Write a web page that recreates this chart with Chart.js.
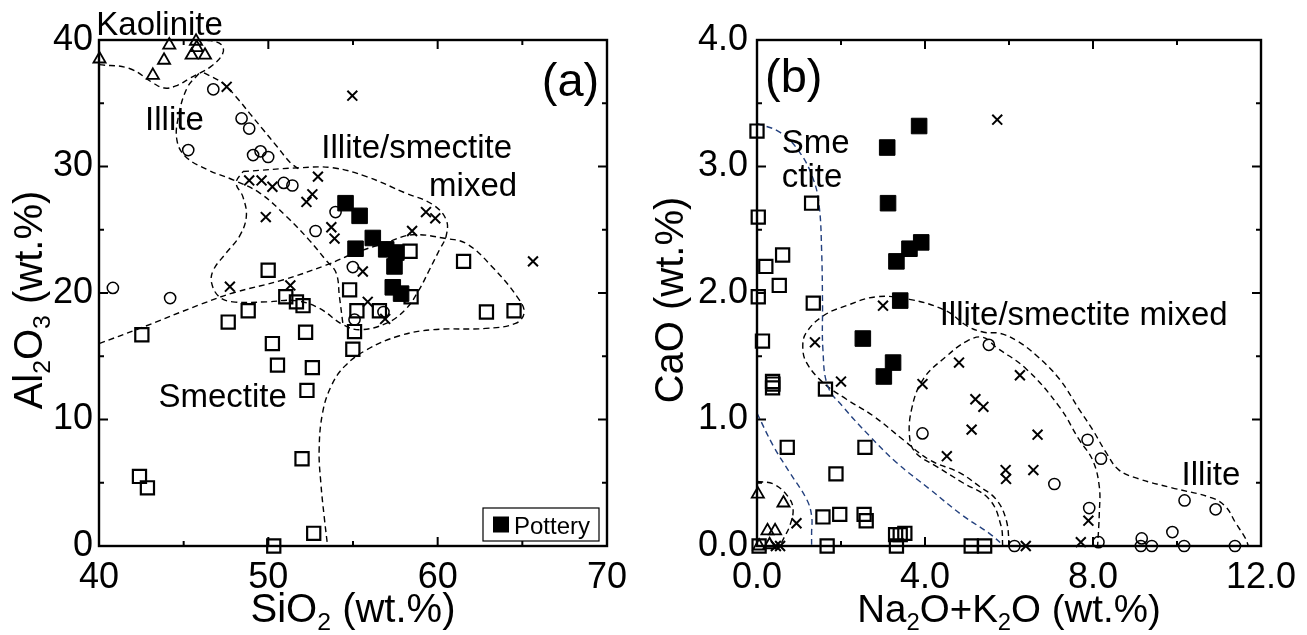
<!DOCTYPE html>
<html>
<head>
<meta charset="utf-8">
<script src="https://cdn.jsdelivr.net/npm/chart.js@4.4.1/dist/chart.umd.min.js"></script>
<style>
  html, body { margin: 0; padding: 0; background: #fff; }
  #wrap { position: relative; width: 1307px; height: 635px; }
  canvas { position: absolute; top: 0; }
  #chartA { left: 0; }
  #chartB { left: 650px; }
</style>
</head>
<body>
<div id="wrap">
  <canvas id="chartA" width="650" height="635"></canvas>
  <canvas id="chartB" width="657" height="635"></canvas>
</div>
<script>
// ---- panel (a): SiO2 vs Al2O3 (wt.%) ----
const aKaolinite = [[40.03,38.5],[43.18,37.2],[43.84,38.4],[44.15,39.6],[45.47,38.8],[45.73,39.9],[45.77,39.4],[46.26,38.8]];
const aIllite = [[46.75,36.1],[48.42,33.8],[48.87,33.0],[45.27,31.3],[49.1,30.9],[49.54,31.2],[49.99,30.75],[50.91,28.7],
  [51.42,28.5],[53.97,26.4],[52.79,24.9],[54.99,22.05],[56.8,18.5],[55.09,17.9],[40.82,20.4],[44.2,19.6]];
const aMixed = [[47.54,36.3],[48.87,28.9],[49.6,28.9],[50.24,28.4],[52.93,29.2],[52.6,27.8],[52.25,27.2],[49.85,26.0],
  [53.72,25.2],[53.91,24.3],[59.31,26.4],[59.86,25.9],[58.49,24.9],[55.58,21.7],[47.73,20.5],[51.3,20.6],
  [55.87,19.3],[56.9,17.95],[54.96,35.6],[65.63,22.5]];
const aSmectite = [[58.37,23.3],[61.53,22.5],[49.99,21.8],[51.03,19.7],[51.66,19.3],[52.05,19.0],[54.8,20.25],[48.81,18.6],
  [47.63,17.7],[55.23,18.6],[56.56,18.6],[55.09,16.95],[52.2,16.9],[50.24,16.0],[54.99,15.55],[58.43,19.7],
  [62.88,18.5],[64.51,18.6],[50.54,14.3],[52.6,14.1],[52.28,12.3],[51.99,6.9],[42.39,5.5],[42.86,4.6],
  [52.68,1.0],[50.32,0],[42.53,16.7]];
const aPottery = [[54.56,27.1],[55.39,26.1],[56.17,24.35],[55.15,23.5],[56.96,23.45],[57.56,23.2],[57.45,22.1],[57.35,20.45],[57.84,19.95]];

// field boundaries (a)
const aKaolField = [[40,38.05],[41.8,37.75],[43.2,36.6],[43.85,36.2],[44.6,36.4],[45.4,37.0],[46.6,37.9],[47.3,38.9],[47.25,39.6],[46.6,39.95],[45.8,40.0]];
const aIlliteField = [[45.9,37.35],[45.2,36.2],[44.7,34.0],[44.6,32.1],[45.1,30.8],[46.4,29.75],[48.0,28.9],[49.5,27.9],
  [51.07,26.05],[52.4,24.2],[53.4,22.6],[54.0,21.6],[54.2,19.7],[54.4,17.6]];
const aIlliteEdge = [[46.2,37.4],[47.3,36.6],[48.1,35.5],[48.9,34.2],[49.7,32.9],[50.5,31.6],[51.3,30.3],[51.8,29.8]];
const aMixedField = [[48.5,29.6],[51.85,29.9],[53.8,29.9],[55.8,29.2],[58.1,27.9],[59.7,27.0],[60.5,25.8],[60.5,24.5],
  [60.1,23.4],[59.5,21.8],[58.9,20.25],[58.1,18.7],[56.96,17.6],[55.4,17.1],[54.4,17.5],[53.0,18.8],[51.6,19.4],
  [49.9,19.3],[47.9,19.3],[47.1,19.7],[46.65,20.8],[46.75,21.8],[47.5,23.15],[48.3,24.5],[48.7,26.05],[48.5,27.6],
  [48.1,28.7],[48.5,29.6]];
const aSmectiteField = [[40,16.0],[42.4,17.2],[46.0,19.1],[47.9,20.0],[50.9,21.05],[53.4,22.2],[55.2,23.2],[57.0,24.0],
  [58.5,24.6],[60.5,24.3],[61.7,23.9],[63.2,22.1],[64.8,19.5],[65.1,18.4],[64.6,17.6],[62.85,17.2],[59.7,17.1],
  [57.7,16.6],[55.8,15.5],[54.5,14.2],[53.7,12.6],[53.2,10.5],[53.0,7.6],[53.1,5.0],[53.3,2.3],[53.5,0]];

const aXLabels = [40, 50, 60, 70];
const aXMinor = [45, 55, 65];
const aYLabels = [0, 10, 20, 30, 40];
const aYMinor = [5, 15, 25, 35];

// ---- panel (b): Na2O+K2O vs CaO (wt.%) ----
const bKaolinite = [[0.02,0.41],[0.63,0.34],[0.25,0.12],[0.43,0.12],[0.05,0],[0.3,0.01]];
const bIllite = [[3.94,0.89],[5.52,1.59],[7.08,0.49],[7.87,0.84],[8.19,0.69],[7.91,0.30],[8.13,0.03],[6.13,0],
  [9.16,0.06],[9.14,0],[9.4,0],[9.89,0.11],[10.17,0],[10.18,0.36],[10.92,0.29],[11.38,0]];
const bMixed = [[5.72,3.37],[3.0,1.90],[1.38,1.61],[2.0,1.30],[3.94,1.28],[4.81,1.45],[5.2,1.16],[5.39,1.10],
  [5.11,0.92],[4.52,0.71],[6.26,1.35],[6.68,0.88],[5.92,0.60],[5.93,0.53],[6.58,0.60],[7.89,0.20],[7.71,0.03],
  [6.4,0],[0.94,0.18],[0.45,0],[0.55,0]];
const bSmectite = [[0,3.28],[1.3,2.71],[0.03,2.60],[0.61,2.30],[0.21,2.21],[0.53,2.06],[0.03,1.97],[1.34,1.92],
  [0.13,1.62],[0.37,1.30],[0.37,1.25],[0.38,1.28],[1.63,1.24],[0.72,0.78],[2.57,0.78],[1.88,0.57],[1.57,0.23],
  [1.97,0.25],[2.55,0.25],[2.6,0.2],[1.67,0],[3.32,0],[3.3,0.09],[3.41,0.09],[3.52,0.1],[5.1,0],[5.42,0],[0.05,0]];
const bPottery = [[3.86,3.32],[3.10,3.15],[3.12,2.71],[3.91,2.40],[3.63,2.35],[3.32,2.25],[3.41,1.94],[2.52,1.64],[3.24,1.45],[3.02,1.34]];

// field boundaries (b)
const bSmectiteOuter = [[0,3.34],[0.55,3.27],[1.02,3.11],[1.34,2.9],[1.48,2.69],[1.54,2.32],[1.56,1.92],[1.57,1.55],
  [1.69,1.26],[2.05,1.10],[2.68,0.87],[3.32,0.66],[4.11,0.45],[4.9,0.24],[5.53,0.10],[5.85,0.01]];
const bSmectiteInner = [[0,1.05],[0.39,0.79],[0.78,0.58],[1.18,0.37],[1.3,0.24],[1.3,0.1],[1.3,0]];
const bKaolField = [[0,0.51],[0.39,0.49],[0.74,0.39],[0.86,0.29],[0.78,0.16],[0.62,0.05],[0.55,0]];
const bMixedField = [[6.01,0],[5.93,0.21],[5.69,0.37],[5.3,0.47],[4.82,0.58],[4.11,0.68],[3.48,0.84],[2.76,1.03],
  [2.13,1.16],[1.58,1.29],[1.18,1.45],[1.09,1.58],[1.18,1.69],[1.58,1.82],[2.13,1.90],[2.84,1.97],[3.63,1.95],
  [4.5,1.86],[5.0,1.74],[5.4,1.69],[5.8,1.68],[6.2,1.62],[6.64,1.51],[7.2,1.32],[7.67,1.08],[7.99,0.92],
  [8.31,0.74],[8.62,0.60],[9.1,0.53],[9.88,0.46],[10.83,0.38],[11.16,0.31],[11.4,0.18],[11.63,0.06],[11.7,0]];
const bIlliteField = [[5.85,0],[5.81,0.16],[5.53,0.37],[4.9,0.50],[4.27,0.63],[3.8,0.73],[3.64,0.84],[3.68,1.08],
  [3.96,1.32],[4.51,1.50],[5.0,1.62],[5.38,1.65],[5.7,1.57],[6.41,1.40],[7.2,1.10],[7.67,0.84],[7.99,0.68],
  [8.15,0.47],[8.15,0.26],[8.11,0]];

const bXLabels = [0, 4, 8, 12];
const bXMinor = [2, 6, 10];
const bYLabels = [0, 1, 2, 3, 4];
const bYMinor = [0.5, 1.5, 2.5, 3.5];

const FONT = "'Liberation Sans', Arial, Helvetica, sans-serif";
const NAVY = '#23407e';

const pts = arr => arr.map(([x, y]) => ({x, y}));

function marker(data, style, radius, width, fill) {
  return {
    data: pts(data), pointStyle: style, pointRadius: radius, pointHoverRadius: radius,
    pointBorderWidth: width, borderColor: '#000', pointBorderColor: '#000',
    backgroundColor: fill || 'rgba(0,0,0,0)', pointBackgroundColor: fill || 'rgba(0,0,0,0)',
    showLine: false, clip: false, order: 1
  };
}

function field(data, color) {
  return {
    data: pts(data), showLine: true, borderColor: color || '#000', borderWidth: 1.4,
    borderDash: [6, 4], pointRadius: 0, pointHoverRadius: 0, tension: 0.4, fill: false,
    clip: false, order: 10
  };
}

function markers(k, c, x, s, p) {
  return [
    marker(p, 'rect', 11, 1, '#000'),
    marker(x, 'crossRot', 7, 2),
    marker(s, 'rect', 9.3, 2.2),
    marker(c, 'circle', 5.6, 1.5),
    marker(k, 'triangle', 7, 1.8)
  ];
}

function richText(ctx, parts, x, y, size) {
  const sub = size * 0.62;
  let w = 0;
  parts.forEach(([t, s]) => { ctx.font = `${s ? sub : size}px ${FONT}`; w += ctx.measureText(t).width; });
  let cx = x - w / 2;
  ctx.textAlign = 'left';
  ctx.textBaseline = 'alphabetic';
  parts.forEach(([t, s]) => {
    ctx.font = `${s ? sub : size}px ${FONT}`;
    ctx.fillText(t, cx, s ? y + size * 0.2 : y);
    cx += ctx.measureText(t).width;
  });
}

const decor = {
  id: 'decor',
  afterDatasetsDraw(chart, args, o) {
    const {ctx, chartArea: a, scales: {x, y}} = chart;
    ctx.save();
    ctx.strokeStyle = '#000';
    ctx.lineWidth = 2.4;
    ctx.strokeRect(a.left, a.top, a.right - a.left, a.bottom - a.top);
    ctx.lineWidth = 2;
    ctx.beginPath();
    const tx = (v, len) => {
      const p = x.getPixelForValue(v);
      ctx.moveTo(p, a.bottom); ctx.lineTo(p, a.bottom - len);
      ctx.moveTo(p, a.top); ctx.lineTo(p, a.top + len);
    };
    const ty = (v, len) => {
      const p = y.getPixelForValue(v);
      ctx.moveTo(a.left, p); ctx.lineTo(a.left + len, p);
      ctx.moveTo(a.right, p); ctx.lineTo(a.right - len, p);
    };
    o.xMajor.forEach(v => tx(v, 9));
    o.xMinor.forEach(v => tx(v, 5));
    o.yMajor.forEach(v => ty(v, 9));
    o.yMinor.forEach(v => ty(v, 5));
    ctx.stroke();

    ctx.fillStyle = '#000';
    ctx.textBaseline = 'alphabetic';
    o.labels.forEach(l => {
      ctx.font = `${l.size}px ${FONT}`;
      ctx.textAlign = l.align || 'left';
      ctx.fillText(l.text, x.getPixelForValue(l.x), y.getPixelForValue(l.y));
    });

    if (o.legend) {
      const r = a.right - o.legend.right, b = a.bottom - o.legend.bottom;
      const w = o.legend.w, h = o.legend.h;
      ctx.fillStyle = '#fff';
      ctx.fillRect(r - w, b - h, w, h);
      ctx.lineWidth = 1.2;
      ctx.strokeRect(r - w, b - h, w, h);
      ctx.fillStyle = '#000';
      ctx.fillRect(r - w + 10, b - h / 2 - 8, 16, 16);
      ctx.font = `24px ${FONT}`;
      ctx.textAlign = 'left';
      ctx.fillText(o.legend.text, r - w + 31, b - h / 2 + 9);
    }

    const cx = (a.left + a.right) / 2, cy = (a.top + a.bottom) / 2;
    richText(ctx, o.xTitle, cx, o.xTitleY, o.xTitleSize);
    ctx.translate(o.yTitleX, cy + 7);
    ctx.rotate(-Math.PI / 2);
    richText(ctx, o.yTitle, 0, 0, 40);
    ctx.restore();
  }
};

function axis(min, max, labels, fmt, fit, pad) {
  return {
    type: 'linear', min, max,
    grid: {display: false, drawTicks: false},
    border: {display: false},
    afterBuildTicks: s => { s.ticks = labels.map(v => ({value: v})); },
    afterFit: fit,
    ticks: {
      color: '#000', padding: pad, autoSkip: false, maxRotation: 0,
      font: {family: FONT, size: 36},
      callback: v => fmt(v)
    }
  };
}

new Chart(document.getElementById('chartA'), {
  type: 'scatter',
  data: {
    datasets: [
      ...markers(aKaolinite, aIllite, aMixed, aSmectite, aPottery),
      field(aKaolField), field(aIlliteField), field(aIlliteEdge), field(aMixedField), field(aSmectiteField)
    ]
  },
  options: {
    responsive: false, animation: false, events: [],
    layout: {padding: {top: 40, right: 43, left: 0, bottom: 0}},
    scales: {
      x: axis(40, 70, aXLabels, v => String(v), s => { s.height = 89; }, 10),
      y: axis(0, 40, aYLabels, v => String(v), s => { s.width = 99; }, 6)
    },
    plugins: {
      legend: {display: false}, tooltip: {enabled: false},
      decor: {
        xMajor: aXLabels, xMinor: aXMinor, yMajor: aYLabels, yMinor: aYMinor,
        labels: [
          {text: 'Kaolinite', x: 39.84, y: 40.43, size: 33},
          {text: 'Illite', x: 42.72, y: 32.91, size: 33},
          {text: 'Illite/smectite', x: 53.13, y: 30.7, size: 33},
          {text: 'mixed', x: 64.69, y: 27.63, size: 33, align: 'right'},
          {text: 'Smectite', x: 43.51, y: 11.02, size: 33},
          {text: '(a)', x: 66.15, y: 35.6, size: 47}
        ],
        legend: {text: 'Pottery', right: 8, bottom: 5, w: 116, h: 33},
        xTitle: [['SiO'], ['2', true], [' (wt.%)']], xTitleY: 622, xTitleSize: 40,
        yTitle: [['Al'], ['2', true], ['O'], ['3', true], [' (wt.%)']], yTitleX: 42
      }
    }
  },
  plugins: [decor]
});

new Chart(document.getElementById('chartB'), {
  type: 'scatter',
  data: {
    datasets: [
      ...markers(bKaolinite, bIllite, bMixed, bSmectite, bPottery),
      field(bSmectiteOuter, NAVY), field(bSmectiteInner, NAVY), field(bKaolField),
      field(bMixedField), field(bIlliteField)
    ]
  },
  options: {
    responsive: false, animation: false, events: [],
    layout: {padding: {top: 40, right: 46, left: 0, bottom: 0}},
    scales: {
      x: axis(0, 12, bXLabels, v => v.toFixed(1), s => { s.height = 89; }, 10),
      y: axis(0, 4, bYLabels, v => v.toFixed(1), s => { s.width = 107; }, 9)
    },
    plugins: {
      legend: {display: false}, tooltip: {enabled: false},
      decor: {
        xMajor: bXLabels, xMinor: bXMinor, yMajor: bYLabels, yMinor: bYMinor,
        labels: [
          {text: '(b)', x: 0.19, y: 3.59, size: 47},
          {text: 'Sme', x: 0.59, y: 3.11, size: 33},
          {text: 'ctite', x: 0.59, y: 2.84, size: 33},
          {text: 'Illite/smectite mixed', x: 4.35, y: 1.745, size: 33},
          {text: 'Illite', x: 10.11, y: 0.486, size: 33}
        ],
        xTitle: [['Na'], ['2', true], ['O+K'], ['2', true], ['O (wt.%)']], xTitleY: 622, xTitleSize: 38.5,
        yTitle: [['CaO (wt.%)']], yTitleX: 33
      }
    }
  },
  plugins: [decor]
});
</script>
</body>
</html>
